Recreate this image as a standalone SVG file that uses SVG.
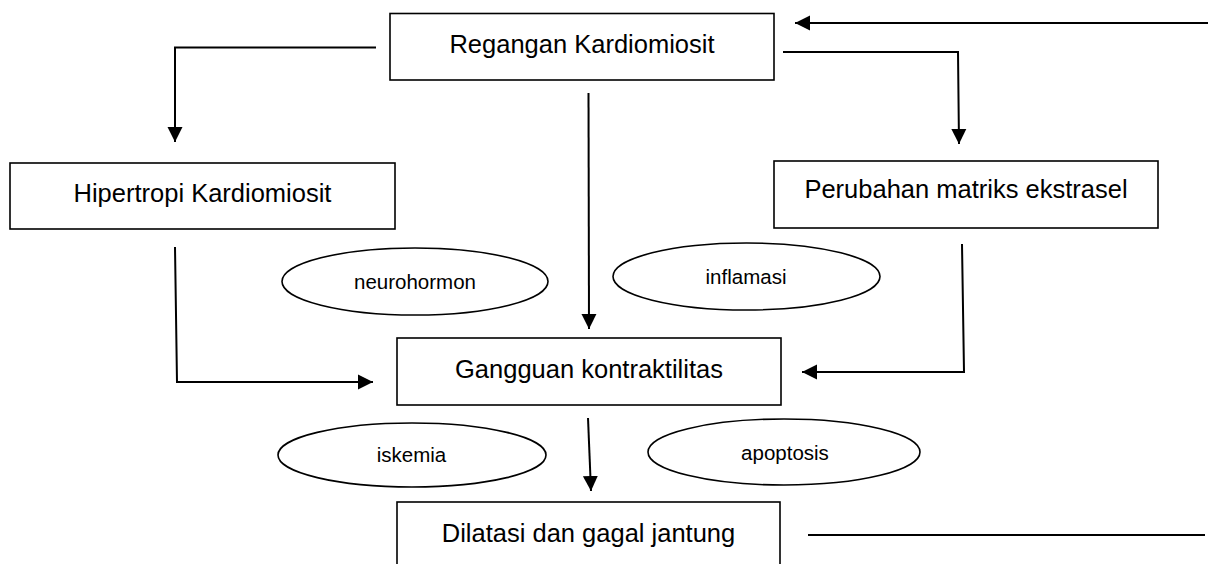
<svg xmlns="http://www.w3.org/2000/svg" width="1208" height="564" viewBox="0 0 1208 564">
<style>
.box{fill:#fff;stroke:#000;stroke-width:1.6}
.ell{fill:#fff;stroke:#000;stroke-width:1.6}
.big{font-family:"Liberation Sans",Arial,sans-serif;font-size:25.5px;fill:#000;text-anchor:middle}
.small{font-family:"Liberation Sans",Arial,sans-serif;font-size:20.5px;fill:#000;text-anchor:middle}
.con{fill:none;stroke:#000;stroke-width:2}
</style>
<defs>
<marker id="ah" markerUnits="userSpaceOnUse" markerWidth="16" markerHeight="16" refX="15" refY="8" orient="auto" viewBox="0 0 16 16">
<path d="M0,0.5 L15,8 L0,15.5 z" fill="#000"/>
</marker>
</defs>
<rect width="1208" height="564" fill="#fff"/>
<g id="connectors">
<polyline class="con" points="376,47.5 175,47.5 175,142" marker-end="url(#ah)"/>
<polyline class="con" points="783,52 958,52 959,144" marker-end="url(#ah)"/>
<line class="con" x1="1208" y1="23" x2="795" y2="23" marker-end="url(#ah)"/>
<line class="con" x1="588.5" y1="93" x2="589" y2="329" marker-end="url(#ah)"/>
<polyline class="con" points="175,247 177,382 373,382" marker-end="url(#ah)"/>
<polyline class="con" points="962,244 964,372 802,372" marker-end="url(#ah)"/>
<line class="con" x1="588" y1="418" x2="591" y2="491" marker-end="url(#ah)"/>
<line class="con" x1="808" y1="535" x2="1205" y2="535"/>
</g>
<g id="regangan">
<rect class="box" x="390" y="13.5" width="384" height="66.5"/>
<text class="big" x="582" y="53">Regangan Kardiomiosit</text>
</g>
<g id="hipertropi">
<rect class="box" x="10" y="163" width="385" height="66"/>
<text class="big" x="202.5" y="202">Hipertropi Kardiomiosit</text>
</g>
<g id="perubahan">
<rect class="box" x="774" y="161" width="384" height="67"/>
<text class="big" x="966" y="198">Perubahan matriks ekstrasel</text>
</g>
<g id="neurohormon">
<ellipse class="ell" cx="415" cy="281.5" rx="133" ry="33.5"/>
<text class="small" x="415" y="289">neurohormon</text>
</g>
<g id="inflamasi">
<ellipse class="ell" cx="746.5" cy="276.5" rx="133.5" ry="33.5"/>
<text class="small" x="746" y="284">inflamasi</text>
</g>
<g id="gangguan">
<rect class="box" x="397" y="338" width="384" height="67"/>
<text class="big" x="589" y="378">Gangguan kontraktilitas</text>
</g>
<g id="iskemia">
<ellipse class="ell" cx="412" cy="455" rx="134" ry="32"/>
<text class="small" x="411.5" y="462">iskemia</text>
</g>
<g id="apoptosis">
<ellipse class="ell" cx="784" cy="452" rx="136" ry="33"/>
<text class="small" x="785" y="460">apoptosis</text>
</g>
<g id="dilatasi">
<rect class="box" x="397" y="502" width="383" height="70"/>
<text class="big" x="588.5" y="542">Dilatasi dan gagal jantung</text>
</g>
</svg>
